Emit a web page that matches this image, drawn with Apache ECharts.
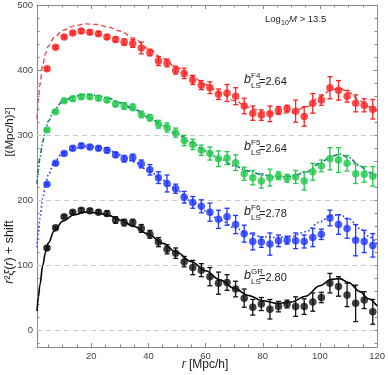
<!DOCTYPE html>
<html><head><meta charset="utf-8">
<script src="https://cdn.jsdelivr.net/npm/echarts@6/dist/echarts.min.js"></script>
<style>html,body{margin:0;padding:0;background:#fff}#c{width:388px;height:375px}</style>
</head><body><div id="c"></div>
<script>
// ---- data ----
const r = [4.5,7.5,10.5,13.5,16.5,19.5,22.5,25.5,28.5,31.5,34.5,37.5,40.5,43.5,46.5,49.5,52.5,55.5,58.5,61.5,64.5,67.5,70.5,73.5,76.5,79.5,82.5,85.5,88.5,91.5,94.5,97.5,100.5,103.5,106.5,109.5,112.5,115.5,118.5];

const redVals = [402,435,451,457,460,458,456,451,447,443,441,434,427,414,411,400,395,385,377,373,363,365,360,345,334,331,333,338,341,337,329,349,354,373,369,360,349,346,340];
const redErr  = [2,2,2,2,3,3,3,3,4,5,6,9,5,7,6,6,8,7,7,9,8,13,13,12,11,8,12,6,5,17,15,15,8,17,15,9,13,10,15];

const greenVals = [308,336,353,356,359,359,357,354,348,345,343,332,327,317,312,304,292,286,277,272,264,265,258,241,235,230,235,238,234,236,230,244,253,264,262,257,241,240,237];
const greenErr  = [2,2,2,3,3,3,3,3,4,5,5,5,5,6,7,7,8,8,8,10,12,10,12,10,11,11,13,6,6,10,14,13,9,17,19,12,15,12,15];

const blueVals = [225,257,272,280,284,282,280,277,270,264,266,256,247,235,226,218,205,197,191,182,171,175,163,149,137,136,133,138,139,138,137,143,148,173,163,157,139,137,131];
const blueErr  = [2,2,2,3,3,3,3,4,4,5,5,6,8,9,13,7,9,9,10,14,14,13,14,13,13,8,17,9,6,12,10,14,8,12,15,15,24,17,18];

const blackVals = [127,158,175,182,185,184,182,180,170,166,166,157,148,136,125,119,106,97,93,83,73,74,64,50,36,41,33,37,41,37,37,44,51,73,68,55,42,47,29];
const blackErr  = [2,2,2,2,3,3,3,4,5,5,5,6,6,7,7,8,8,11,10,14,17,12,12,14,12,10,15,8,6,15,12,14,8,15,15,18,28,13,19];

// model curves
const modelR = [1,1.5,2,3,4,5,7,10,14,18,22,26,30,35,40,45,50,55,60,65,70,75,80,85,90,95,100,104,107,110,114,117,120];
const redModel   = [325,355,377,408,426,437,450,461,468,471,470,466,460,449,433,418,404,391,378,365,353,343,336,333,335,343,359,370,372,366,353,344,337];
const greenModel = [225,248,265,290,309,322,339,352,360,363,361,357,350,340,328,315,302,289,276,264,253,245,239,236,237,243,257,268,271,266,253,243,235];
const blueModel  = [128,152,172,203,225,240,259,273,280,283,282,277,270,259,246,231,215,199,184,170,158,149,144,143,145,152,167,177,178,172,157,145,133];
const blackModel = [30,52,70,100,121,135,153,168,178,182,181,177,170,160,148,134,120,106,92,78,65,54,46,42,44,53,69,79,80,74,60,49,38];

const shifts = [0,100,200,300];
const xMajor = [20,40,60,80,100,120];
const xMinor = [5,10,15,25,30,35,45,50,55,65,70,75,85,90,95,105,110,115];
const yMajor = [0,100,200,300,400,500];
const yMinor = [-20,20,40,60,80,120,140,160,180,220,240,260,280,320,340,360,380,420,440,460,480];

const labels = [
  {sup:'F4', val:'=2.64'},
  {sup:'F5', val:'=2.64'},
  {sup:'F6', val:'=2.78'},
  {sup:'GR', val:'=2.80'}
];

// ---- chart ----
const FONT = 'Liberation Sans, Arial, sans-serif';
const AX = '#8a8a8a';
const chart = echarts.init(document.getElementById('c'), null, {renderer:'canvas'});

function pts(vals){ return r.map((x,i)=>[x, vals[i]]); }
function errs(vals, e){ return r.map((x,i)=>[x, vals[i]-e[i], vals[i]+e[i]]); }
function curve(vals){ return modelR.map((x,i)=>[x, vals[i]]); }

function errSeries(data, color){
  return {
    type:'custom', data:data, encode:{x:0, y:[1,2]}, z:3, silent:true,
    renderItem:function(params, api){
      const x = api.value(0);
      const p1 = api.coord([x, api.value(1)]);
      const p2 = api.coord([x, api.value(2)]);
      const w = 2.5;
      const st = {stroke:color, lineWidth:1.3};
      return {type:'group', children:[
        {type:'line', shape:{x1:p1[0], y1:p1[1], x2:p2[0], y2:p2[1]}, style:st},
        {type:'line', shape:{x1:p1[0]-w, y1:p1[1], x2:p1[0]+w, y2:p1[1]}, style:st},
        {type:'line', shape:{x1:p2[0]-w, y1:p2[1], x2:p2[0]+w, y2:p2[1]}, style:st}
      ]};
    }
  };
}
function ptSeries(data, color){
  return {type:'scatter', data:data, symbol:'circle', symbolSize:7.5, itemStyle:{color:color}, z:4, silent:true};
}
function lineSeries(data, color, type, width){
  return {type:'line', data:data, showSymbol:false, smooth:0.35, smoothMonotone:'x', z:2, silent:true,
    lineStyle:{color:color, type:type, width:width}};
}

const series = [
  lineSeries(curve(blackModel), '#000000', 'solid', 1.6),
  lineSeries(curve(blueModel), '#2a3cff', [1.6,2.4], 1.6),
  lineSeries(curve(greenModel), '#137880', [5,2,1.5,2], 1.6),
  lineSeries(curve(redModel), '#e0504f', [5,3], 1.4),
  errSeries(errs(blackVals, blackErr), '#111'),
  errSeries(errs(blueVals, blueErr), '#1f36ff'),
  errSeries(errs(greenVals, greenErr), '#22c94b'),
  errSeries(errs(redVals, redErr), '#ff2020'),
  ptSeries(pts(blackVals), '#111'),
  ptSeries(pts(blueVals), '#1f36ff'),
  ptSeries(pts(greenVals), '#22c94b'),
  ptSeries(pts(redVals), '#ff2020')
];
series[0].markLine = {
  silent:true, symbol:'none', label:{show:false}, z:1,
  lineStyle:{color:'#c8c8c8', type:[5,4], width:1},
  data: shifts.map(v=>({yAxis:v}))
};

function xAx(pos, vals, len, line, lab){
  return {type:'value', min:1, max:120, position:pos,
    axisLine:{show:line, onZero:false, lineStyle:{color:AX, width:1}},
    axisTick:{show:true, inside:true, length:len, customValues:vals, lineStyle:{color:AX}},
    axisLabel:lab ? {show:true, customValues:vals, color:'#444', fontSize:9.5, margin:4, fontFamily:FONT} : {show:false},
    splitLine:{show:false}};
}
function yAx(pos, vals, len, line, lab){
  return {type:'value', min:-25, max:500, position:pos,
    axisLine:{show:line, onZero:false, lineStyle:{color:AX, width:1}},
    axisTick:{show:true, inside:true, length:len, customValues:vals, lineStyle:{color:AX}},
    axisLabel:lab ? {show:true, customValues:vals, color:'#444', fontSize:9.5, margin:4, fontFamily:FONT} : {show:false},
    splitLine:{show:false}};
}

const graphic = [];
const lblBase = [86,153,218,282];
labels.forEach((l,i)=>{
  const b = lblBase[i];
  graphic.push({type:'text', x:244, y:b, style:{text:'b', font:'italic 12.5px '+FONT, fill:'#222', verticalAlign:'bottom'}});
  graphic.push({type:'text', x:251, y:b-6, style:{text:l.sup, font:'8px '+FONT, fill:'#222', verticalAlign:'bottom'}});
  graphic.push({type:'text', x:251, y:b+4, style:{text:'LS', font:'8px '+FONT, fill:'#222', verticalAlign:'bottom'}});
  graphic.push({type:'text', x:259, y:b+1, style:{text:l.val, font:'11px '+FONT, fill:'#222', verticalAlign:'bottom'}});
});
// Log10 M label
graphic.push({type:'text', x:265, y:24, style:{text:'Log', font:'9.5px '+FONT, fill:'#222', verticalAlign:'bottom'}});
graphic.push({type:'text', x:281, y:26.5, style:{text:'10', font:'7px '+FONT, fill:'#222', verticalAlign:'bottom'}});
graphic.push({type:'text', x:289, y:24, style:{text:'M', font:'italic 9.5px '+FONT, fill:'#222', verticalAlign:'bottom'}});
graphic.push({type:'text', x:297, y:24, style:{text:' > 13.5', font:'9.5px '+FONT, fill:'#222', verticalAlign:'bottom'}});
// x axis title
graphic.push({type:'text', x:205, y:365, style:{text:'{i|r} [Mpc/h]', align:'center', verticalAlign:'middle',
  font:'12px '+FONT, fill:'#222', rich:{i:{font:'italic 12px '+FONT, fill:'#222'}}}});
// y axis title
graphic.push({type:'text', x:10, y:252, rotation:Math.PI/2, style:{text:'{i|r}²{i|ξ}({i|r}) + shift', align:'center', verticalAlign:'middle',
  font:'12.5px '+FONT, fill:'#222', rich:{i:{font:'italic 12.5px '+FONT, fill:'#222'}}}});
graphic.push({type:'text', x:10, y:132, rotation:Math.PI/2, style:{text:'[(Mpc/h)²]', align:'center', verticalAlign:'middle',
  font:'11.5px '+FONT, fill:'#222'}});

chart.setOption({
  animation:false,
  backgroundColor:'#fff',
  grid:{left:37, right:6, top:4, bottom:28, containLabel:false},
  xAxis:[xAx('bottom', xMajor, 4, true, true), xAx('bottom', xMinor, 2.5, false, false),
         xAx('top', xMajor, 4, true, false), xAx('top', xMinor, 2.5, false, false)],
  yAxis:[yAx('left', yMajor, 4, true, true), yAx('left', yMinor, 2.5, false, false),
         yAx('right', yMajor, 4, true, false), yAx('right', yMinor, 2.5, false, false)],
  series: series,
  graphic: graphic
});
</script></body></html>
